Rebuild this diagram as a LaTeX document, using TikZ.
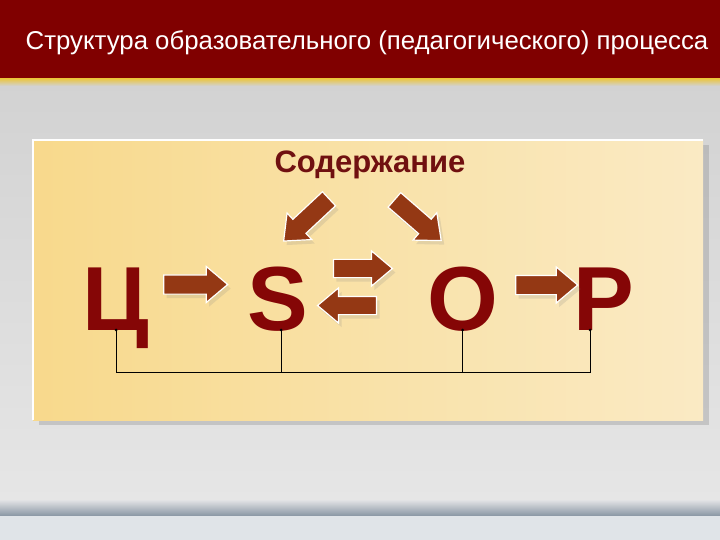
\documentclass[tikz,border=0pt]{standalone}
\usepackage{fontspec}
\setmainfont{Liberation Sans}
\usetikzlibrary{shapes.arrows,shadows}

\definecolor{barred}{HTML}{800000}
\definecolor{barline}{HTML}{E8C64A}
\definecolor{bgtop}{HTML}{D2D2D2}
\definecolor{bgbottom}{HTML}{E6E6E6}
\definecolor{bandtop}{HTML}{E2E3E5}
\definecolor{banddark}{HTML}{8895A3}
\definecolor{bandlow}{HTML}{E0E4E8}
\definecolor{panelleft}{HTML}{F8D98C}
\definecolor{panelright}{HTML}{FAEAC4}
\definecolor{letterred}{HTML}{850606}
\definecolor{sodred}{HTML}{701010}
\definecolor{arrowbrown}{HTML}{943814}

\begin{document}
\begin{tikzpicture}[x=1bp,y=-1bp,
  letter/.style={font=\fontsize{91bp}{91bp}\selectfont\bfseries, text=letterred, inner sep=0pt, anchor=base},
  blockarrow/.style={single arrow, fill=arrowbrown, draw=white, line width=1.2bp,
    inner xsep=0pt, inner ysep=9bp, single arrow head extend=8.5bp, single arrow tip angle=80,
    drop shadow={opacity=0.18, shadow xshift=3bp, shadow yshift=-4bp}},
  bus/.style={black, line width=0.9bp}]
\useasboundingbox (0,0) rectangle (720,540);
\begin{scope}
	\shade[top color=bgtop, bottom color=bgbottom] (0,80) rectangle (720,502);
	\fill[barred] (0,0) rectangle (720,80);
	\shade[top color=barline, bottom color=bgtop] (0,79) rectangle (720,86);
	\shade[top color=bandtop, bottom color=banddark] (0,500) rectangle (720,516);
	\fill[bandlow] (0,516) rectangle (720,540);
	\node[text=white, font=\fontsize{25.8bp}{28bp}\selectfont, anchor=base] (title) at (367,50) {Структура образовательного (педагогического) процесса};
	\shade[left color=panelleft, right color=panelright, drop shadow={opacity=0.3, shadow xshift=6bp, shadow yshift=-5bp}] (33,140) rectangle (703,420);
	\draw[white, line width=1.5bp] (33,420) -- (33,140) -- (703,140);
	\node[font=\fontsize{31bp}{31bp}\selectfont\bfseries, text=sodred, anchor=base] (sod) at (370,173) {Содержание};
	\node[letter] (c) at (116,330) {Ц};
	\node[letter] (s) at (278,330) {S};
	\node[letter] (o) at (462.5,330) {O};
	\node[letter] (p) at (604,330) {P};
	\node[blockarrow, minimum height=64bp] (a1) at (190,284.5) {};
	\node[blockarrow, minimum height=59bp, inner ysep=8.5bp] (a2) at (357.5,268.5) {};
	\node[blockarrow, minimum height=59bp, inner ysep=8.5bp, rotate=180] (a3) at (352.5,305.5) {};
	\node[blockarrow, minimum height=62bp] (a4) at (541,285) {};
	\node[blockarrow, minimum height=62bp, rotate=-137] (a5) at (310.5,216) {};
	\node[blockarrow, minimum height=62bp, rotate=-41] (a6) at (413.5,216.5) {};
	\coordinate (busy) at (0,372);
	\coordinate (sl) at ([xshift=3bp]s.base);
	\coordinate (pl) at ([xshift=-14bp]p.base);
	\draw[bus] (c.base) -- (c.base |- busy) -- (pl |- busy) -- (pl);
	\draw[bus] (sl) -- (sl |- busy);
	\draw[bus] (o.base) -- (o.base |- busy);
	\fill (c.base) circle (1.5bp);
	\fill (sl) circle (1.5bp);
	\fill (o.base) circle (1.5bp);
	\fill (pl) circle (1.5bp);
\end{scope}
\end{tikzpicture}
\end{document}
